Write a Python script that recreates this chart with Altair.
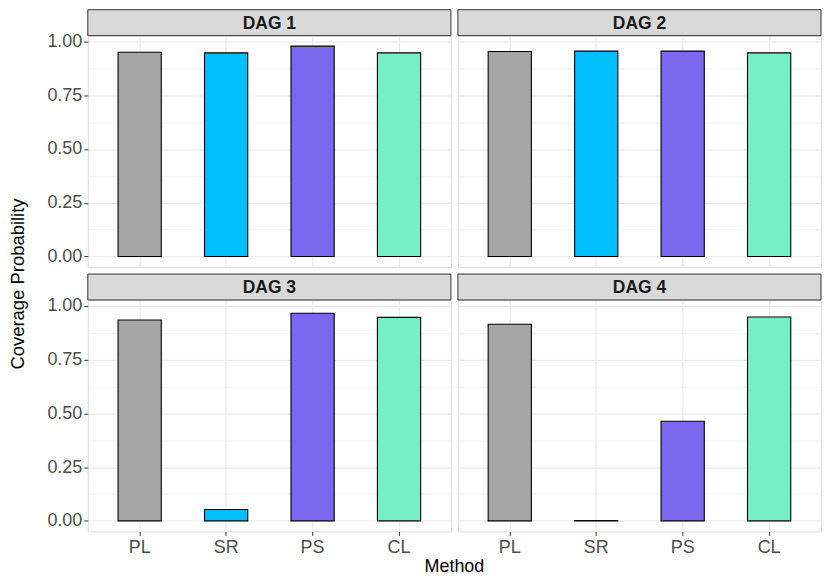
import altair as alt
import pandas as pd

dags = ["DAG 1", "DAG 2", "DAG 3", "DAG 4"]
methods = ["PL", "SR", "PS", "CL"]
colors = ["#A6A6A6", "#00BFFF", "#7B68EE", "#76EEC6"]
cov_dag1 = [0.950, 0.947, 0.978, 0.947]
cov_dag2 = [0.953, 0.955, 0.955, 0.947]
cov_dag3 = [0.934, 0.053, 0.965, 0.946]
cov_dag4 = [0.914, 0.001, 0.463, 0.948]

rows = []
for d, vals in zip(dags, [cov_dag1, cov_dag2, cov_dag3, cov_dag4]):
    for m, v in zip(methods, vals):
        rows.append({"dag": d, "method": m, "value": v})
df = pd.DataFrame(rows)

W, H = 364, 232
STRIP = 26
GAP = 7
FONT = "Liberation Sans"
GRID = "#EBEBEB"
LABEL_SIZE = 18
major = "datum.value % 0.25 === 0"
yvals = [0, 0.125, 0.25, 0.375, 0.5, 0.625, 0.75, 0.875, 1.0]


def panel(dag, left, bottom):
    if bottom:
        x_axis = alt.Axis(
            labelAngle=0, bandPosition=0.5, grid=True, gridColor=GRID, gridWidth=1.2,
            domain=False, tickColor="#333333", tickSize=4, tickWidth=1,
            labelColor="#4D4D4D", labelFontSize=LABEL_SIZE, labelFont=FONT, labelPadding=3,
            title="Method" if left else None,
            titleFont=FONT, titleFontSize=18, titleColor="#000000",
            titleFontWeight="normal", titlePadding=1,
            titleX=W + (GAP - 1) / 2 if left else W / 2,
        )
    else:
        x_axis = alt.Axis(
            bandPosition=0.5, grid=True, gridColor=GRID, gridWidth=1.2,
            domain=False, ticks=False, labels=False, title=None,
        )
    if left:
        y_axis = alt.Axis(
            values=yvals,
            labelExpr=major + " ? format(datum.value, '.2f') : ''",
            labelOverlap=False,
            grid=True, gridColor=GRID,
            gridWidth={"condition": {"test": major, "value": 1.2}, "value": 0.6},
            tickOpacity={"condition": {"test": major, "value": 1}, "value": 0},
            domain=False, tickColor="#333333", tickSize=4, tickWidth=1,
            labelColor="#4D4D4D", labelFontSize=LABEL_SIZE, labelFont=FONT, labelPadding=2,
            title="Coverage Probability" if bottom else None,
            titleFont=FONT, titleFontSize=18.5, titleColor="#000000",
            titleFontWeight="normal", titlePadding=19,
            titleY=-(GAP + STRIP) / 2,
        )
    else:
        y_axis = alt.Axis(
            values=yvals, grid=True, gridColor=GRID,
            gridWidth={"condition": {"test": major, "value": 1.2}, "value": 0.6},
            domain=False, ticks=False, labels=False, title=None,
        )

    base = alt.Chart(df).transform_filter(alt.datum.dag == dag)

    bars = base.mark_bar(stroke="black", strokeWidth=1.1).encode(
        x=alt.X("method:N", sort=methods,
                scale=alt.Scale(domain=methods, paddingInner=0.5, paddingOuter=0.35),
                axis=x_axis),
        y=alt.Y("value:Q", scale=alt.Scale(domain=[-0.049, 1.027], nice=False, zero=False),
                axis=y_axis),
        fill=alt.Fill("method:N", scale=alt.Scale(domain=methods, range=colors), legend=None),
    )

    one = base.transform_filter(alt.datum.method == "PL")
    strip_rect = one.mark_rect(fill="#D9D9D9", stroke="#333333", strokeWidth=1).encode(
        x=alt.value(0), x2=alt.value(W), y=alt.value(-STRIP), y2=alt.value(0)
    )
    strip_text = one.mark_text(
        font=FONT, fontSize=17.5, fontWeight="bold", color="#1A1A1A",
        baseline="middle", align="center",
    ).encode(x=alt.value(W / 2), y=alt.value(-STRIP / 2 + 1), text="dag:N")

    return alt.layer(bars, strip_rect, strip_text).properties(width=W, height=H)


chart = alt.concat(
    panel("DAG 1", True, False),
    panel("DAG 2", False, False),
    panel("DAG 3", True, True),
    panel("DAG 4", False, True),
    columns=2,
    spacing={"row": GAP + STRIP, "column": GAP},
    bounds="flush",
).properties(
    padding={"left": 0, "top": 0, "right": 0, "bottom": 0}
).configure_view(
    stroke="#333333", strokeWidth=1
).configure(background="white")

chart.save("out.html", embed_options={"renderer": "svg", "actions": False})
